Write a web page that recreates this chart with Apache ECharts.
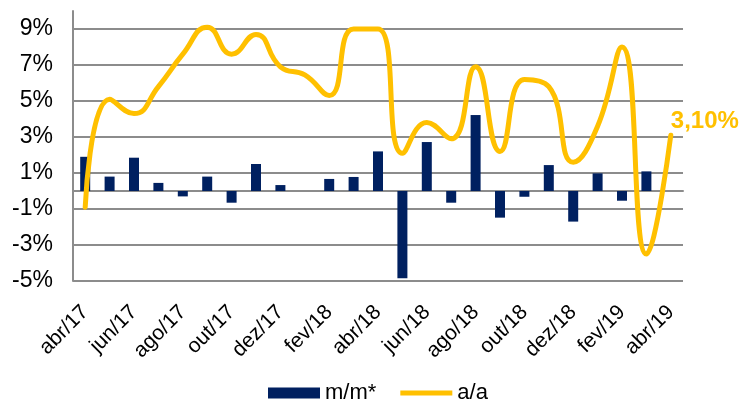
<!DOCTYPE html>
<html>
<head>
<meta charset="utf-8">
<script src="https://cdn.jsdelivr.net/npm/echarts@6/dist/echarts.min.js"></script>
<style>
  html, body { margin: 0; padding: 0; background: #fff; }
  #chart { width: 745px; height: 403px; }
</style>
</head>
<body>
<div id="chart"></div>
<script>
// months abr/17 .. abr/19
const months = ['abr/17','mai/17','jun/17','jul/17','ago/17','set/17','out/17','nov/17','dez/17','jan/18',
                'fev/18','mar/18','abr/18','mai/18','jun/18','jul/18','ago/18','set/18','out/18','nov/18',
                'dez/18','jan/19','fev/19','mar/19','abr/19'];
// m/m* (bars), %
const mm = [1.9, 0.8, 1.85, 0.45, -0.3, 0.8, -0.65, 1.5, 0.33, 0, 0.67, 0.78, 2.2,
            -4.85, 2.72, -0.65, 4.22, -1.48, -0.32, 1.44, -1.7, 0.98, -0.54, 1.09, null];
// a/a (line), %
const aa = [-0.9, 5.1, 4.3, 5.8, 7.6, 9.1, 7.6, 8.7, 6.9, 6.45, 5.3, 9.0, 9.0,
            2.1, 3.8, 2.9, 6.9, 2.2, 6.2, 5.8, 1.6, 3.6, 8.0, -3.5, 3.1];

const font = "'Liberation Sans', Arial, sans-serif";
const gridColor = '#8c8c8c';

var chart = echarts.init(document.getElementById('chart'));

var option = {
    animation: false,
    grid: { left: 73, right: 62, top: 11, bottom: 122 },
    legend: {
        left: 268,
        top: 382,
        padding: 0,
        itemWidth: 52,
        itemHeight: 11,
        itemGap: 24,
        textStyle: { fontFamily: font, fontSize: 22, color: '#000' },
        data: [
            { name: 'm/m*', icon: 'rect' },
            { name: 'a/a', icon: 'path://M0,0H104V10H0Z' }
        ]
    },
    xAxis: [
        {
            // labels at the bottom
            type: 'category',
            data: months,
            position: 'bottom',
            axisLine: { show: false, onZero: false },
            axisTick: { show: false },
            axisLabel: {
                interval: 1,
                rotate: 45,
                margin: 28,
                fontFamily: font,
                fontSize: 21,
                color: '#000'
            }
        },
        {
            // zero line with ticks
            type: 'category',
            data: months,
            position: 'bottom',
            axisLine: { onZero: true, lineStyle: { color: gridColor, width: 2 } },
            axisTick: { interval: 1, length: 6, lineStyle: { color: gridColor, width: 2 } },
            axisLabel: { show: false }
        }
    ],
    yAxis: {
        type: 'value',
        min: -5,
        max: 10,
        interval: 2,
        axisLine: { show: true, lineStyle: { color: gridColor, width: 2 } },
        axisTick: { show: false },
        axisLabel: {
            margin: 20,
            fontFamily: font,
            fontSize: 23,
            color: '#000',
            formatter: function (v) { return Math.abs(v - 10) < 1e-6 ? '' : v + '%'; }
        },
        splitLine: {
            lineStyle: {
                width: 2,
                color: [gridColor, gridColor, gridColor, gridColor, gridColor, gridColor, gridColor, gridColor, 'rgba(0,0,0,0)']
            }
        }
    },
    series: [
        {
            name: 'm/m*',
            type: 'bar',
            xAxisIndex: 1,
            barWidth: 10,
            itemStyle: { color: '#002060' },
            data: mm
        },
        {
            name: 'a/a',
            type: 'line',
            xAxisIndex: 1,
            smooth: 0.5,
            symbol: 'none',
            lineStyle: { color: '#FFC000', width: 5, cap: 'round', join: 'round' },
            itemStyle: { color: '#FFC000' },
            endLabel: {
                show: true,
                distance: 0,
                offset: [0, -14],
                fontFamily: font,
                fontSize: 24,
                fontWeight: 'bold',
                color: '#FFC000',
                formatter: function (p) { return p.value.toFixed(2).replace('.', ',') + '%'; }
            },
            data: aa
        }
    ]
};

chart.setOption(option);
</script>
</body>
</html>
